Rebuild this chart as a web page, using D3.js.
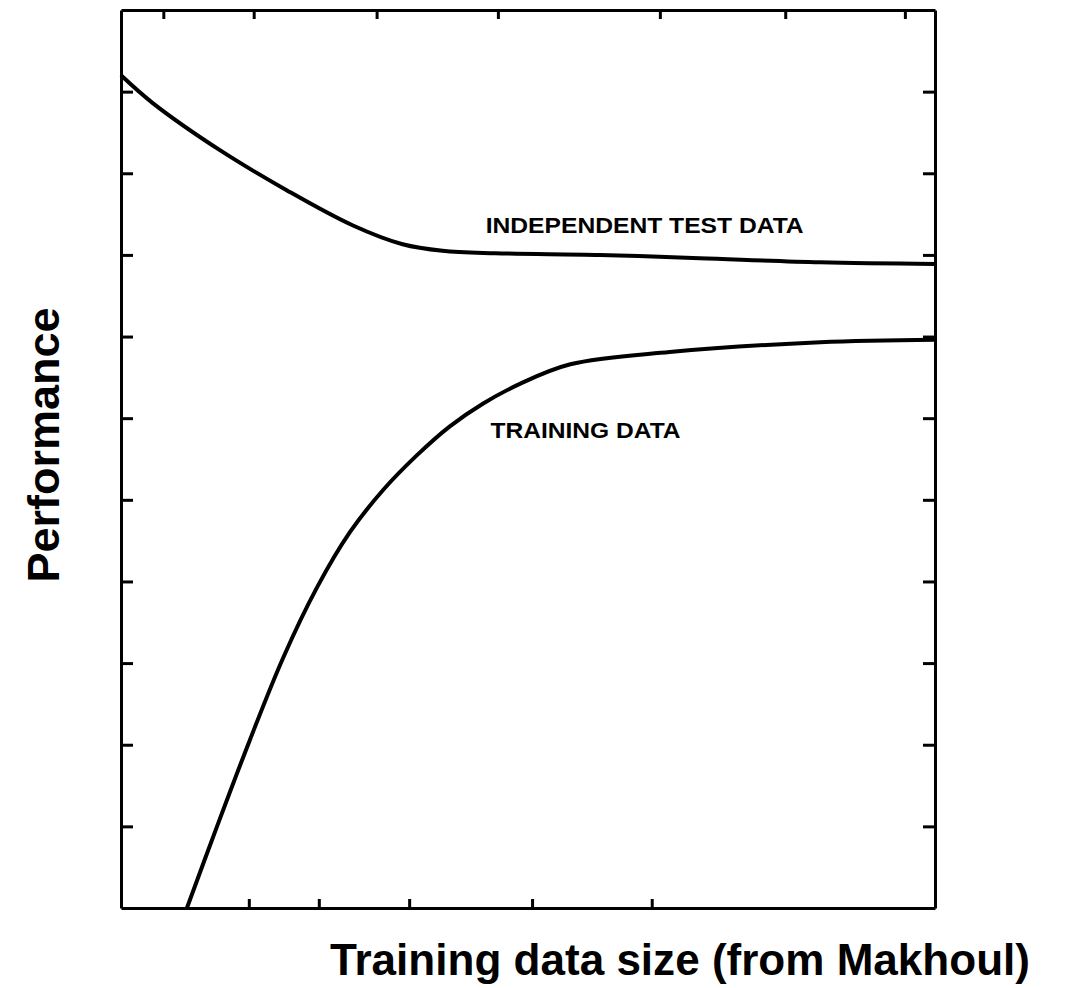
<!DOCTYPE html>
<html>
<head>
<meta charset="utf-8">
<script src="https://cdn.jsdelivr.net/npm/d3@7"></script>
<style>
    body { margin: 0; background: #fff; }
    .axis path, .axis line { stroke: #000; stroke-width: 3; }
</style>
</head>
<body>
<script>
//curve values (x = training data size, y = performance, arbitrary units)
var testX = [0, 3.9, 12.2, 20.4, 28.5, 34.6, 39.5, 46, 58.8, 71.1, 85.9, 100];
var testY = [10.2, 9.86, 9.28, 8.79, 8.36, 8.13, 8.05, 8.02, 8.0, 7.96, 7.91, 7.89];

var trainX = [8.1, 11.8, 15.8, 19.9, 24.1, 28.1, 32.2, 36.4, 40.4, 44.5, 49.0, 55.2, 67.4, 85.9, 100];
var trainY = [0, 1.0, 2.05, 3.06, 3.93, 4.6, 5.12, 5.55, 5.9, 6.18, 6.42, 6.66, 6.81, 6.93, 6.96];

//tick positions (no labels in the original)
var yTicks = [1, 2, 3, 4, 5, 6, 7, 8, 9, 10];
var bottomTicks = [15.7, 24.3, 35.4, 50.5, 65.2];
var topTicks = [5.2, 16.3, 31.4, 46.3, 66.2, 81.6, 96.3];

//curve labels
var labels = ["INDEPENDENT TEST DATA", "TRAINING DATA"];
var labelX = [44.8, 45.4];
var labelY = [8.27, 5.76];

window.onload = drawChart();

function drawChart(){

    var width = 1068,
        height = 988;

    var svg = d3.select("body")
        .append("svg")
        .attr("width", width)
        .attr("height", height);

    //plot frame
    var x = d3.scaleLinear().domain([0, 100]).range([121, 935]);
    var y = d3.scaleLinear().domain([0, 11]).range([908, 10]);

    //axes with inward ticks and no labels
    svg.append("g")
        .attr("class", "axis")
        .attr("transform", "translate(0," + y(0) + ")")
        .call(d3.axisBottom(x).tickValues(bottomTicks).tickSize(-9).tickSizeOuter(0).tickFormat(""));

    svg.append("g")
        .attr("class", "axis")
        .attr("transform", "translate(0," + y(11) + ")")
        .call(d3.axisTop(x).tickValues(topTicks).tickSize(-9).tickSizeOuter(0).tickFormat(""));

    svg.append("g")
        .attr("class", "axis")
        .attr("transform", "translate(" + x(0) + ",0)")
        .call(d3.axisLeft(y).tickValues(yTicks).tickSize(-12).tickSizeOuter(0).tickFormat(""));

    svg.append("g")
        .attr("class", "axis")
        .attr("transform", "translate(" + x(100) + ",0)")
        .call(d3.axisRight(y).tickValues(yTicks).tickSize(-12).tickSizeOuter(0).tickFormat(""));

    var line = d3.line()
        .x(function(d){ return x(d[0]); })
        .y(function(d){ return y(d[1]); })
        .curve(d3.curveCatmullRom.alpha(0.5));

    var series = [d3.zip(testX, testY), d3.zip(trainX, trainY)];

    svg.selectAll(".curve")
        .data(series)
        .enter()
        .append("path")
        .attr("class", "curve")
        .attr("d", line)
        .attr("fill", "none")
        .attr("stroke", "#000")
        .attr("stroke-width", 4);

    //curve labels
    svg.selectAll(".label")
        .data(labels)
        .enter()
        .append("text")
        .attr("class", "label")
        .attr("x", function(d, i){ return x(labelX[i]); })
        .attr("y", function(d, i){ return y(labelY[i]); })
        .attr("textLength", function(d, i){ return i == 0 ? 318 : 190; })
        .attr("lengthAdjust", "spacingAndGlyphs")
        .style("font-family", "Liberation Sans, Arial, sans-serif")
        .style("font-weight", "bold")
        .style("font-size", "22px")
        .text(function(d){ return d; });

    //axis titles
    svg.append("text")
        .attr("transform", "translate(59," + 445 + ") rotate(-90)")
        .attr("text-anchor", "middle")
        .style("font-family", "Liberation Sans, Arial, sans-serif")
        .style("font-weight", "bold")
        .style("font-size", "45px")
        .text("Performance");

    svg.append("text")
        .attr("x", 330)
        .attr("y", 975)
        .attr("textLength", 700)
        .attr("lengthAdjust", "spacingAndGlyphs")
        .style("font-family", "Liberation Sans, Arial, sans-serif")
        .style("font-weight", "bold")
        .style("font-size", "44px")
        .text("Training data size (from Makhoul)");
};
</script>
</body>
</html>
